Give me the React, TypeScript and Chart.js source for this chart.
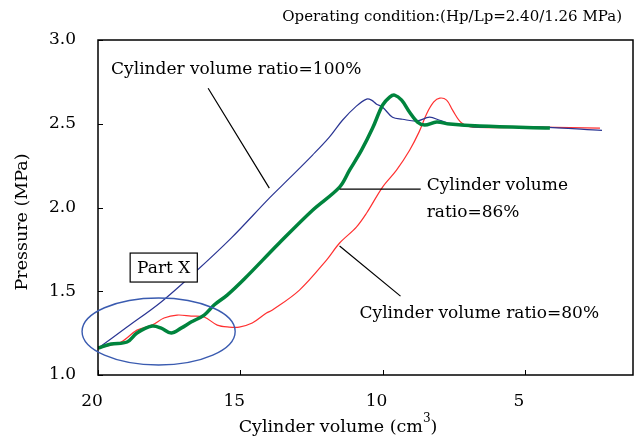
import { useEffect, useRef } from "react";
import { Chart, registerables } from "chart.js";
Chart.register(...registerables);

// Cylinder volume ratio = 100% (blue)
const blueX = [20.0, 18.98, 17.78, 16.62, 15.32, 13.98, 13.27, 12.46, 11.87, 11.41, 10.92, 10.56, 10.39, 10.21, 10.0, 9.65, 9.3, 8.8, 8.35, 7.99, 7.54, 6.58, 4.47, 2.29];
const blueY = [1.16, 1.286, 1.436, 1.609, 1.817, 2.056, 2.175, 2.313, 2.42, 2.521, 2.605, 2.647, 2.641, 2.617, 2.599, 2.539, 2.527, 2.516, 2.539, 2.521, 2.498, 2.48, 2.48, 2.46];

// Cylinder volume ratio = 86% (green)
const greenX = [20.0, 19.54, 18.98, 18.63, 18.1, 17.78, 17.43, 17.08, 16.73, 16.27, 15.92, 15.46, 14.86, 13.63, 12.46, 11.51, 11.16, 10.74, 10.35, 10.0, 9.75, 9.58, 9.33, 9.05, 8.77, 8.52, 8.1, 7.64, 6.58, 4.12];
const greenY = [1.161, 1.185, 1.197, 1.251, 1.292, 1.28, 1.251, 1.28, 1.316, 1.358, 1.418, 1.477, 1.573, 1.788, 1.984, 2.122, 2.223, 2.342, 2.474, 2.611, 2.659, 2.671, 2.641, 2.569, 2.51, 2.492, 2.51, 2.498, 2.486, 2.474];

// Cylinder volume ratio = 80% (red)
const redX = [20.0, 19.19, 18.63, 18.1, 17.68, 17.22, 16.73, 16.27, 15.81, 15.39, 15.04, 14.58, 14.08, 13.87, 12.92, 11.97, 11.51, 10.92, 10.56, 10.0, 9.51, 9.05, 8.72, 8.45, 8.2, 7.99, 7.75, 7.54, 7.22, 6.83, 4.47, 2.36];
const redY = [1.161, 1.197, 1.268, 1.298, 1.34, 1.358, 1.352, 1.346, 1.298, 1.286, 1.286, 1.31, 1.37, 1.388, 1.507, 1.686, 1.788, 1.883, 1.967, 2.122, 2.223, 2.342, 2.45, 2.56, 2.63, 2.653, 2.641, 2.581, 2.504, 2.48, 2.48, 2.474];

const xTicks = [20, 15, 10, 5];
const yTicks = [1.0, 1.5, 2.0, 2.5, 3.0];

const titleText = "Operating condition:(Hp/Lp=2.40/1.26 MPa)";
const yTitle = "Pressure (MPa)";
const xTitleMain = "Cylinder volume (cm";
const xTitleSup = "3";
const label100 = "Cylinder volume ratio=100%";
const label86a = "Cylinder volume";
const label86b = "ratio=86%";
const label80 = "Cylinder volume ratio=80%";
const partLabel = "Part X";

const SERIF = "'DejaVu Serif', 'Liberation Serif', serif";

const toPts = (xs: number[], ys: number[]) => xs.map((x, i) => ({ x, y: ys[i] }));

const overlay = {
  id: "overlay",
  afterDraw(chart: any) {
    const { ctx, chartArea: a, scales } = chart;
    const xs = scales.x, ys = scales.y;
    const px = (v: number) => xs.getPixelForValue(v);
    const py = (v: number) => ys.getPixelForValue(v);
    ctx.save();
    // frame
    ctx.strokeStyle = "#000";
    ctx.lineWidth = 1.5;
    ctx.strokeRect(a.left, a.top, a.right - a.left, a.bottom - a.top);
    // inner tick marks
    ctx.lineWidth = 1;
    ctx.beginPath();
    xTicks.forEach((v) => {
      const x = Math.round(px(v)) + 0.5;
      ctx.moveTo(x, a.bottom);
      ctx.lineTo(x, a.bottom - 5);
    });
    yTicks.forEach((v) => {
      const y = Math.round(py(v)) + 0.5;
      ctx.moveTo(a.left, y);
      ctx.lineTo(a.left + 5, y);
    });
    ctx.stroke();

    // leader lines
    ctx.strokeStyle = "#000";
    ctx.lineWidth = 1.2;
    ctx.beginPath();
    ctx.moveTo(px(16.13), py(2.712));
    ctx.lineTo(px(13.98), py(2.116));
    ctx.moveTo(px(11.51), py(2.11));
    ctx.lineTo(px(8.66), py(2.11));
    ctx.moveTo(px(11.51), py(1.77));
    ctx.lineTo(px(9.37), py(1.471));
    ctx.stroke();

    // labels
    ctx.fillStyle = "#000";
    ctx.textBaseline = "middle";
    ctx.textAlign = "left";
    ctx.font = `17px ${SERIF}`;
    ctx.fillText(label100, px(19.54), py(2.826));
    ctx.fillText(label86a, px(8.45), py(2.128));
    ctx.fillText(label86b, px(8.45), py(1.967));
    ctx.fillText(label80, px(10.81), py(1.364));

    // Part X box
    const bx1 = px(18.87), bx2 = px(16.51), by1 = py(1.728), by2 = py(1.555);
    ctx.fillStyle = "#fff";
    ctx.fillRect(bx1, by1, bx2 - bx1, by2 - by1);
    ctx.lineWidth = 1.2;
    ctx.strokeRect(bx1, by1, bx2 - bx1, by2 - by1);
    ctx.fillStyle = "#000";
    ctx.textAlign = "center";
    ctx.fillText(partLabel, (bx1 + bx2) / 2, (by1 + by2) / 2 + 1);

    // ellipse
    const cx = px(17.87), cy = py(1.26);
    const rx = Math.abs(px(17.87 - 2.69) - cx), ry = Math.abs(py(1.26 + 0.2) - cy);
    ctx.strokeStyle = "#3a5bb0";
    ctx.lineWidth = 1.4;
    ctx.beginPath();
    ctx.ellipse(cx, cy, rx, ry, 0, 0, Math.PI * 2);
    ctx.stroke();

    // title
    ctx.fillStyle = "#000";
    ctx.font = `15px ${SERIF}`;
    ctx.textAlign = "right";
    ctx.fillText(titleText, 622, 17);

    // y title
    ctx.font = `17.5px ${SERIF}`;
    ctx.save();
    ctx.translate(22, 222);
    ctx.rotate(-Math.PI / 2);
    ctx.textAlign = "center";
    ctx.fillText(yTitle, 0, 0);
    ctx.restore();

    // x title with superscript
    ctx.font = `17.5px ${SERIF}`;
    const wMain = ctx.measureText(xTitleMain).width;
    ctx.font = `12px ${SERIF}`;
    const wSup = ctx.measureText(xTitleSup).width;
    ctx.font = `17.5px ${SERIF}`;
    const wClose = ctx.measureText(")").width;
    const total = wMain + wSup + wClose;
    let sx = 338 - total / 2;
    ctx.textAlign = "left";
    ctx.fillText(xTitleMain, sx, 427);
    sx += wMain;
    ctx.font = `12px ${SERIF}`;
    ctx.fillText(xTitleSup, sx, 419);
    sx += wSup;
    ctx.font = `17.5px ${SERIF}`;
    ctx.fillText(")", sx, 427);
    ctx.restore();
  },
};

export default function App() {
  const ref = useRef<HTMLCanvasElement>(null);
  useEffect(() => {
    if (!ref.current) return;
    const chart = new Chart(ref.current, {
      type: "scatter",
      data: {
        datasets: [
          {
            label: "86%",
            data: toPts(greenX, greenY),
            showLine: true,
            borderColor: "#00843d",
            borderWidth: 3.5,
            pointRadius: 0,
            tension: 0.35,
          },
          {
            label: "100%",
            data: toPts(blueX, blueY),
            showLine: true,
            borderColor: "#2a3593",
            borderWidth: 1.2,
            pointRadius: 0,
            tension: 0.35,
          },
          {
            label: "80%",
            data: toPts(redX, redY),
            showLine: true,
            borderColor: "#ff3030",
            borderWidth: 1.2,
            pointRadius: 0,
            tension: 0.35,
          },
        ],
      },
      options: {
        responsive: false,
        animation: false,
        layout: { padding: { left: 0, top: 40, right: 3, bottom: 0 } },
        plugins: { legend: { display: false }, tooltip: { enabled: false }, title: { display: false } },
        scales: {
          x: {
            type: "linear",
            reverse: true,
            min: 1.2,
            max: 20,
            grid: { display: false },
            border: { display: false },
            afterBuildTicks: (s: any) => {
              s.ticks = xTicks.map((v) => ({ value: v }));
            },
            afterFit: (s: any) => {
              s.height = 64;
            },
            ticks: {
              color: "#000",
              font: { family: SERIF, size: 17 },
              padding: 8,
              labelOffset: -6,
              maxRotation: 0,
              callback: (v: any) => String(v),
            },
          },
          y: {
            type: "linear",
            min: 1.0,
            max: 3.0,
            grid: { display: false },
            border: { display: false },
            afterBuildTicks: (s: any) => {
              s.ticks = yTicks.map((v) => ({ value: v }));
            },
            afterFit: (s: any) => {
              s.width = 98;
            },
            ticks: {
              color: "#000",
              font: { family: SERIF, size: 17 },
              padding: 14,
              callback: (v: any) => Number(v).toFixed(1),
            },
          },
        },
      },
      plugins: [overlay],
    });
    return () => chart.destroy();
  }, []);
  return (
    <div style={{ position: "fixed", left: 0, top: 0, width: 636, height: 439, background: "#fff" }}>
      <canvas ref={ref} width={636} height={439} style={{ width: 636, height: 439 }} />
    </div>
  );
}
